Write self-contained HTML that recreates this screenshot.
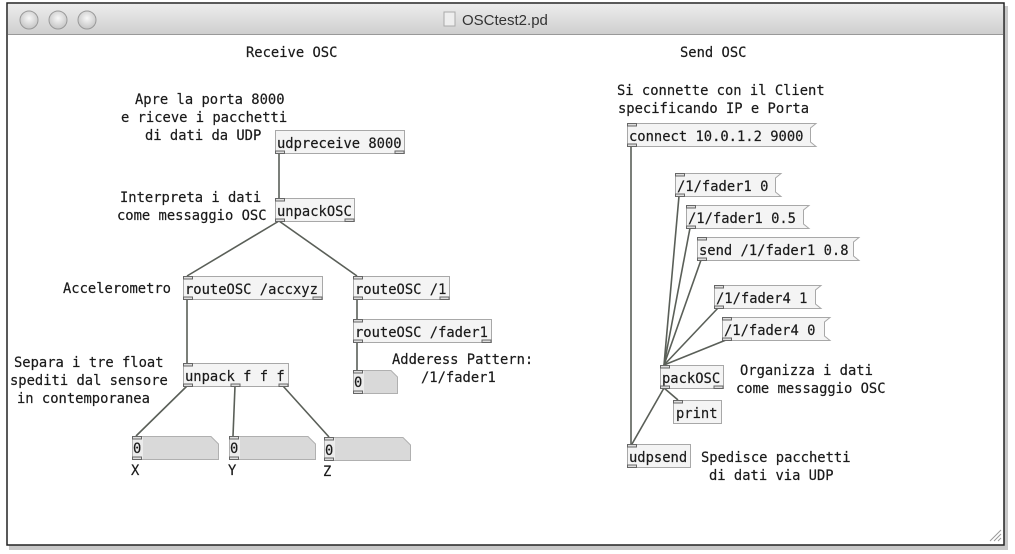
<!DOCTYPE html>
<html><head><meta charset="utf-8"><style>
html,body{margin:0;padding:0;background:#fff;width:1015px;height:554px;overflow:hidden}
text{font-family:"DejaVu Sans Mono","Liberation Mono",monospace;font-size:13.8px;fill:#1a1a1a;stroke:#1a1a1a;stroke-width:0.2}
.o{fill:#f4f4f4;stroke:#a8a8a8;stroke-width:1}
.io{fill:#ddd;stroke:#666;stroke-width:1}
.w{stroke:#5a5f58;stroke-width:1.6;fill:none}
.n{fill:#d9d9d9;stroke:#b0b0b0}
</style></head><body>
<svg width="1015" height="554" xmlns="http://www.w3.org/2000/svg">
<defs>
<linearGradient id="tb" x1="0" y1="0" x2="0" y2="1"><stop offset="0" stop-color="#ececec"/><stop offset="1" stop-color="#cfcfcf"/></linearGradient>
<radialGradient id="bt" cx="0.5" cy="0.4" r="0.6"><stop offset="0" stop-color="#f8f8f8"/><stop offset="1" stop-color="#c4c4c4"/></radialGradient>
</defs>
<rect x="9" y="6" width="999" height="544" fill="#c8c8c8"/>
<rect x="7" y="3" width="997" height="542" fill="#fff" stroke="#222" stroke-width="1.5"/>
<rect x="8" y="4" width="995" height="30" fill="url(#tb)"/>
<line x1="8" y1="34.5" x2="1003" y2="34.5" stroke="#999"/>
<circle cx="29" cy="20" r="9" fill="url(#bt)" stroke="#9a9a9a"/>
<circle cx="58" cy="20" r="9" fill="url(#bt)" stroke="#9a9a9a"/>
<circle cx="87" cy="20" r="9" fill="url(#bt)" stroke="#9a9a9a"/>
<rect x="444" y="12" width="11" height="14" fill="#eee" stroke="#aaa"/>
<text x="462" y="25" style="font-family:'Liberation Sans',sans-serif;font-size:15px;fill:#333;stroke:none">OSCtest2.pd</text>
<g stroke="#999"><line x1="990" y1="541" x2="1001" y2="530"/><line x1="994" y1="541" x2="1001" y2="534"/><line x1="998" y1="541" x2="1001" y2="538"/></g>

<g class="w">
<line x1="279" y1="153" x2="279" y2="198"/>
<line x1="279" y1="221" x2="187" y2="276"/>
<line x1="279" y1="221" x2="357" y2="276"/>
<line x1="187" y1="300" x2="187" y2="363"/>
<line x1="357" y1="300" x2="357" y2="319"/>
<line x1="357" y1="343" x2="357" y2="370"/>
<line x1="187" y1="386" x2="136" y2="436"/>
<line x1="235" y1="386" x2="233" y2="436"/>
<line x1="283" y1="386" x2="329" y2="437"/>
<line x1="631" y1="146" x2="631" y2="444"/>
<line x1="679" y1="196" x2="664" y2="365"/>
<line x1="690" y1="228" x2="664" y2="365"/>
<line x1="701" y1="260" x2="664" y2="365"/>
<line x1="718" y1="308" x2="664" y2="365"/>
<line x1="726" y1="340" x2="664" y2="365"/>
<line x1="664" y1="388" x2="678" y2="400"/>
<line x1="664" y1="388" x2="632" y2="444"/>
</g>

<text x="246" y="57">Receive OSC</text>
<text x="680" y="57">Send OSC</text>
<text x="135" y="104">Apre la porta 8000</text>
<text x="121" y="122">e riceve i pacchetti</text>
<text x="145" y="140">di dati da UDP</text>
<text x="120" y="202">Interpreta i dati</text>
<text x="117" y="220">come messaggio OSC</text>
<text x="63" y="293">Accelerometro</text>
<text x="14" y="367">Separa i tre float</text>
<text x="10" y="385">spediti dal sensore</text>
<text x="17" y="403">in contemporanea</text>
<text x="392" y="364">Adderess Pattern:</text>
<text x="421" y="382">/1/fader1</text>
<text x="131" y="475">X</text>
<text x="228" y="475">Y</text>
<text x="323" y="476">Z</text>
<text x="617" y="95">Si connette con il Client</text>
<text x="618" y="113">specificando IP e Porta</text>
<text x="740" y="375">Organizza i dati</text>
<text x="736" y="393">come messaggio OSC</text>
<text x="701" y="462">Spedisce pacchetti</text>
<text x="709" y="480">di dati via UDP</text>

<g>
<rect class="o" x="275.5" y="130.5" width="129" height="23"/><text x="277" y="148">udpreceive 8000</text>
<rect class="io" x="275.5" y="151" width="9" height="2.5"/><rect class="io" x="395" y="151" width="9" height="2.5"/>

<rect class="o" x="275.5" y="198.5" width="79" height="23"/><text x="277" y="216">unpackOSC</text>
<rect class="io" x="275.5" y="198.5" width="9" height="2.5"/><rect class="io" x="275.5" y="219" width="9" height="2.5"/><rect class="io" x="345" y="219" width="9" height="2.5"/>

<rect class="o" x="183.5" y="276.5" width="139" height="23"/><text x="185" y="294">routeOSC /accxyz</text>
<rect class="io" x="183.5" y="276.5" width="9" height="2.5"/><rect class="io" x="183.5" y="297" width="9" height="2.5"/><rect class="io" x="313" y="297" width="9" height="2.5"/>

<rect class="o" x="353.5" y="276.5" width="96" height="23"/><text x="355" y="294">routeOSC /1</text>
<rect class="io" x="353.5" y="276.5" width="9" height="2.5"/><rect class="io" x="353.5" y="297" width="9" height="2.5"/><rect class="io" x="440" y="297" width="9" height="2.5"/>

<rect class="o" x="353.5" y="319.5" width="138" height="23"/><text x="355" y="337">routeOSC /fader1</text>
<rect class="io" x="353.5" y="319.5" width="9" height="2.5"/><rect class="io" x="353.5" y="340" width="9" height="2.5"/><rect class="io" x="482" y="340" width="9" height="2.5"/>

<rect class="o" x="183.5" y="363.5" width="105" height="23"/><text x="185" y="381">unpack f f f</text>
<rect class="io" x="183.5" y="363.5" width="9" height="2.5"/><rect class="io" x="183.5" y="384" width="9" height="2.5"/><rect class="io" x="231" y="384" width="9" height="2.5"/><rect class="io" x="279" y="384" width="9" height="2.5"/>

<rect class="o" x="660.5" y="365.5" width="63" height="23"/><text x="662" y="383">packOSC</text>
<rect class="io" x="660.5" y="365.5" width="9" height="2.5"/><rect class="io" x="660.5" y="386" width="9" height="2.5"/><rect class="io" x="714" y="386" width="9" height="2.5"/>

<rect class="o" x="673.5" y="400.5" width="48" height="23"/><text x="676" y="418">print</text>
<rect class="io" x="673.5" y="400.5" width="9" height="2.5"/>

<rect class="o" x="627.5" y="444.5" width="63" height="23"/><text x="629" y="462">udpsend</text>
<rect class="io" x="627.5" y="444.5" width="9" height="2.5"/><rect class="io" x="627.5" y="465" width="9" height="2.5"/>
</g>

<g>
<polygon class="o" points="627.5,123.5 816,123.5 810.5,128 810.5,142 816,146.5 627.5,146.5"/><text x="629" y="141">connect 10.0.1.2 9000</text>
<rect class="io" x="627.5" y="123.5" width="9" height="2.5"/><rect class="io" x="627.5" y="144" width="9" height="2.5"/>

<polygon class="o" points="675.5,173.5 781,173.5 775.5,178 775.5,192 781,196.5 675.5,196.5"/><text x="677" y="191">/1/fader1 0</text>
<rect class="io" x="675.5" y="173.5" width="9" height="2.5"/><rect class="io" x="675.5" y="194" width="9" height="2.5"/>

<polygon class="o" points="686.5,205.5 809,205.5 803.5,210 803.5,224 809,228.5 686.5,228.5"/><text x="688" y="223">/1/fader1 0.5</text>
<rect class="io" x="686.5" y="205.5" width="9" height="2.5"/><rect class="io" x="686.5" y="226" width="9" height="2.5"/>

<polygon class="o" points="697.5,237.5 859,237.5 853.5,242 853.5,256 859,260.5 697.5,260.5"/><text x="699" y="255">send /1/fader1 0.8</text>
<rect class="io" x="697.5" y="237.5" width="9" height="2.5"/><rect class="io" x="697.5" y="258" width="9" height="2.5"/>

<polygon class="o" points="714.5,285.5 821,285.5 815.5,290 815.5,304 821,308.5 714.5,308.5"/><text x="716" y="303">/1/fader4 1</text>
<rect class="io" x="714.5" y="285.5" width="9" height="2.5"/><rect class="io" x="714.5" y="306" width="9" height="2.5"/>

<polygon class="o" points="722.5,317.5 830,317.5 824.5,322 824.5,336 830,340.5 722.5,340.5"/><text x="724" y="335">/1/fader4 0</text>
<rect class="io" x="722.5" y="317.5" width="9" height="2.5"/><rect class="io" x="722.5" y="338" width="9" height="2.5"/>
</g>

<g>
<polygon class="n" points="353.5,370.5 391,370.5 397.5,377 397.5,393.5 353.5,393.5"/><rect x="354" y="371" width="10" height="22" fill="#ececec"/><text x="354" y="387">0</text>
<rect class="io" x="353.5" y="370.5" width="9" height="2.5"/><rect class="io" x="353.5" y="391" width="9" height="2.5"/>

<polygon class="n" points="132.5,436.5 211,436.5 218.5,444 218.5,459.5 132.5,459.5"/><rect x="133" y="437" width="10" height="22" fill="#ececec"/><text x="133" y="453">0</text>
<rect class="io" x="132.5" y="436.5" width="9" height="2.5"/><rect class="io" x="132.5" y="457" width="9" height="2.5"/>

<polygon class="n" points="229.5,436.5 308,436.5 315.5,444 315.5,459.5 229.5,459.5"/><rect x="230" y="437" width="10" height="22" fill="#ececec"/><text x="230" y="453">0</text>
<rect class="io" x="229.5" y="436.5" width="9" height="2.5"/><rect class="io" x="229.5" y="457" width="9" height="2.5"/>

<polygon class="n" points="324.5,437.5 403,437.5 410.5,445 410.5,460.5 324.5,460.5"/><rect x="325" y="438" width="10" height="22" fill="#ececec"/><text x="325" y="455">0</text>
<rect class="io" x="324.5" y="437.5" width="9" height="2.5"/><rect class="io" x="324.5" y="458" width="9" height="2.5"/>
</g>
</svg>
</body></html>
